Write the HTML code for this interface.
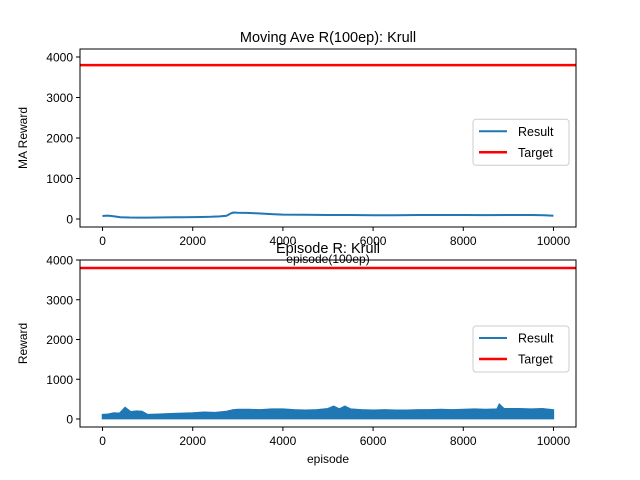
<!DOCTYPE html>
<html><head><meta charset="utf-8"><style>
body{margin:0;background:#fff}
svg{display:block;font-family:"Liberation Sans","DejaVu Sans",sans-serif}
</style></head><body>
<svg id="chart" width="640" height="480">
<rect width="640" height="480" fill="#fff"/>
</svg>
<script>
const maEpisodes=[0,100,200,300,400,600,800,1000,1200,1400,1600,1800,2000,2200,2400,2600,2750,2850,2900,3000,3200,3400,3600,3800,4000,4500,5000,5500,6000,6500,7000,7500,8000,8500,9000,9500,9800,9999];
const maValues=[75,85,75,60,45,38,35,35,38,40,42,45,48,50,55,65,80,140,160,155,150,140,130,120,110,105,100,98,92,95,100,98,100,97,100,98,95,80];
const rawBins=[0,125,250,375,500,625,750,875,1000,1250,1500,1750,2000,2250,2500,2750,2900,3000,3250,3500,3750,4000,4250,4500,4750,5000,5125,5250,5375,5500,5750,6000,6250,6500,6750,7000,7250,7500,7750,8000,8250,8500,8750,8800,8900,9000,9250,9500,9750,9999];
const rawHigh=[110,120,150,140,290,180,200,190,110,120,130,140,150,170,160,190,230,240,240,230,250,250,230,220,230,260,320,250,320,250,230,220,230,220,220,230,230,240,230,240,250,240,250,370,260,260,260,250,260,230];
const rawLow=[10,10,10,10,10,10,10,10,10,10,10,10,10,10,10,10,10,10,10,10,10,10,10,10,10,10,10,10,10,10,10,10,10,10,10,10,10,10,10,10,10,10,10,10,10,10,10,10,10,10];
const target=3800;
const xTicks=[0,2000,4000,6000,8000,10000];
const yTicks=[0,1000,2000,3000,4000];

const NS="http://www.w3.org/2000/svg";
const svg=document.getElementById('chart');
function mk(tag,attrs,parent){const e=document.createElementNS(NS,tag);for(const k in attrs)e.setAttribute(k,attrs[k]);(parent||svg).appendChild(e);return e;}
const X0=80,X1=576,xmin=-500,xmax=10500;
const sx=v=>X0+(v-xmin)/(xmax-xmin)*(X1-X0);

function panel(top,bottom,ymin,ymax,title,ylab,xlab,kind,pname){
  const g=mk('g',{});
  
  
  const sy=v=>bottom-(v-ymin)/(ymax-ymin)*(bottom-top);
  if(kind==='ma'){
    const d=maEpisodes.map((e,i)=>(i?'L':'M')+sx(e).toFixed(1)+','+sy(maValues[i]).toFixed(1)).join('');
    const p=mk('path',{d:d,fill:'none',stroke:'#1f77b4','stroke-width':2},g);
    
    
  }else{
    let d=rawBins.map((e,i)=>(i?'L':'M')+sx(e).toFixed(1)+','+sy(rawHigh[i]).toFixed(1)).join('');
    for(let i=rawBins.length-1;i>=0;i--)d+='L'+sx(rawBins[i]).toFixed(1)+','+sy(rawLow[i]).toFixed(1);
    const p=mk('path',{d:d+'Z',fill:'#1f77b4',stroke:'#1f77b4','stroke-width':1.5},g);
    
    
  }
  const t=mk('line',{x1:X0,x2:X1,y1:sy(target),y2:sy(target),stroke:'#ff0000','stroke-width':2.5},g);
  
  
  mk('rect',{x:X0,y:top,width:X1-X0,height:bottom-top,fill:'none',stroke:'#000','stroke-width':1},g);
  xTicks.forEach(v=>{
    mk('line',{x1:sx(v),x2:sx(v),y1:bottom,y2:bottom+4,stroke:'#000'},g);
    const tx=mk('text',{x:sx(v),y:bottom+18,'text-anchor':'middle','font-size':12},g);
    tx.textContent=v;
    
    
  });
  yTicks.forEach(v=>{
    mk('line',{x1:X0,x2:X0-4,y1:sy(v),y2:sy(v),stroke:'#000'},g);
    const tx=mk('text',{x:X0-7,y:sy(v)+4.5,'text-anchor':'end','font-size':12},g);
    tx.textContent=v;
    
    
  });
  const tt=mk('text',{x:(X0+X1)/2,y:top-7,'text-anchor':'middle','font-size':14.5},g);
  tt.textContent=title;
  
  
  const yl=mk('text',{x:0,y:0,'text-anchor':'middle','font-size':12,transform:`translate(27,${(top+bottom)/2}) rotate(-90)`},g);
  yl.textContent=ylab;
  
  
  const xl=mk('text',{x:(X0+X1)/2,y:bottom+36,'text-anchor':'middle','font-size':12},g);
  xl.textContent=xlab;
  
  
  const lg=mk('g',{},g);
  
  
  const ly=top+(bottom-top)*0.395;
  mk('rect',{x:473,y:ly,width:96,height:46,rx:3,fill:'#fff',stroke:'#ccc','fill-opacity':0.85},lg);
  mk('line',{x1:479,x2:507,y1:ly+12,y2:ly+12,stroke:'#1f77b4','stroke-width':2},lg);
  mk('line',{x1:479,x2:507,y1:ly+33,y2:ly+33,stroke:'#ff0000','stroke-width':2.5},lg);
  const l1=mk('text',{x:518,y:ly+16.5,'font-size':12.5},lg);l1.textContent='Result';
  
  
  const l2=mk('text',{x:518,y:ly+37.5,'font-size':12.5},lg);l2.textContent='Target';
  
  
}
panel(49,227,-197,4197,'Moving Ave R(100ep): Krull','MA Reward','episode(100ep)','ma','top-panel');
panel(260,427,-201,4000,'Episode R: Krull','Reward','episode','raw','bottom-panel');
</script>
</body></html>
